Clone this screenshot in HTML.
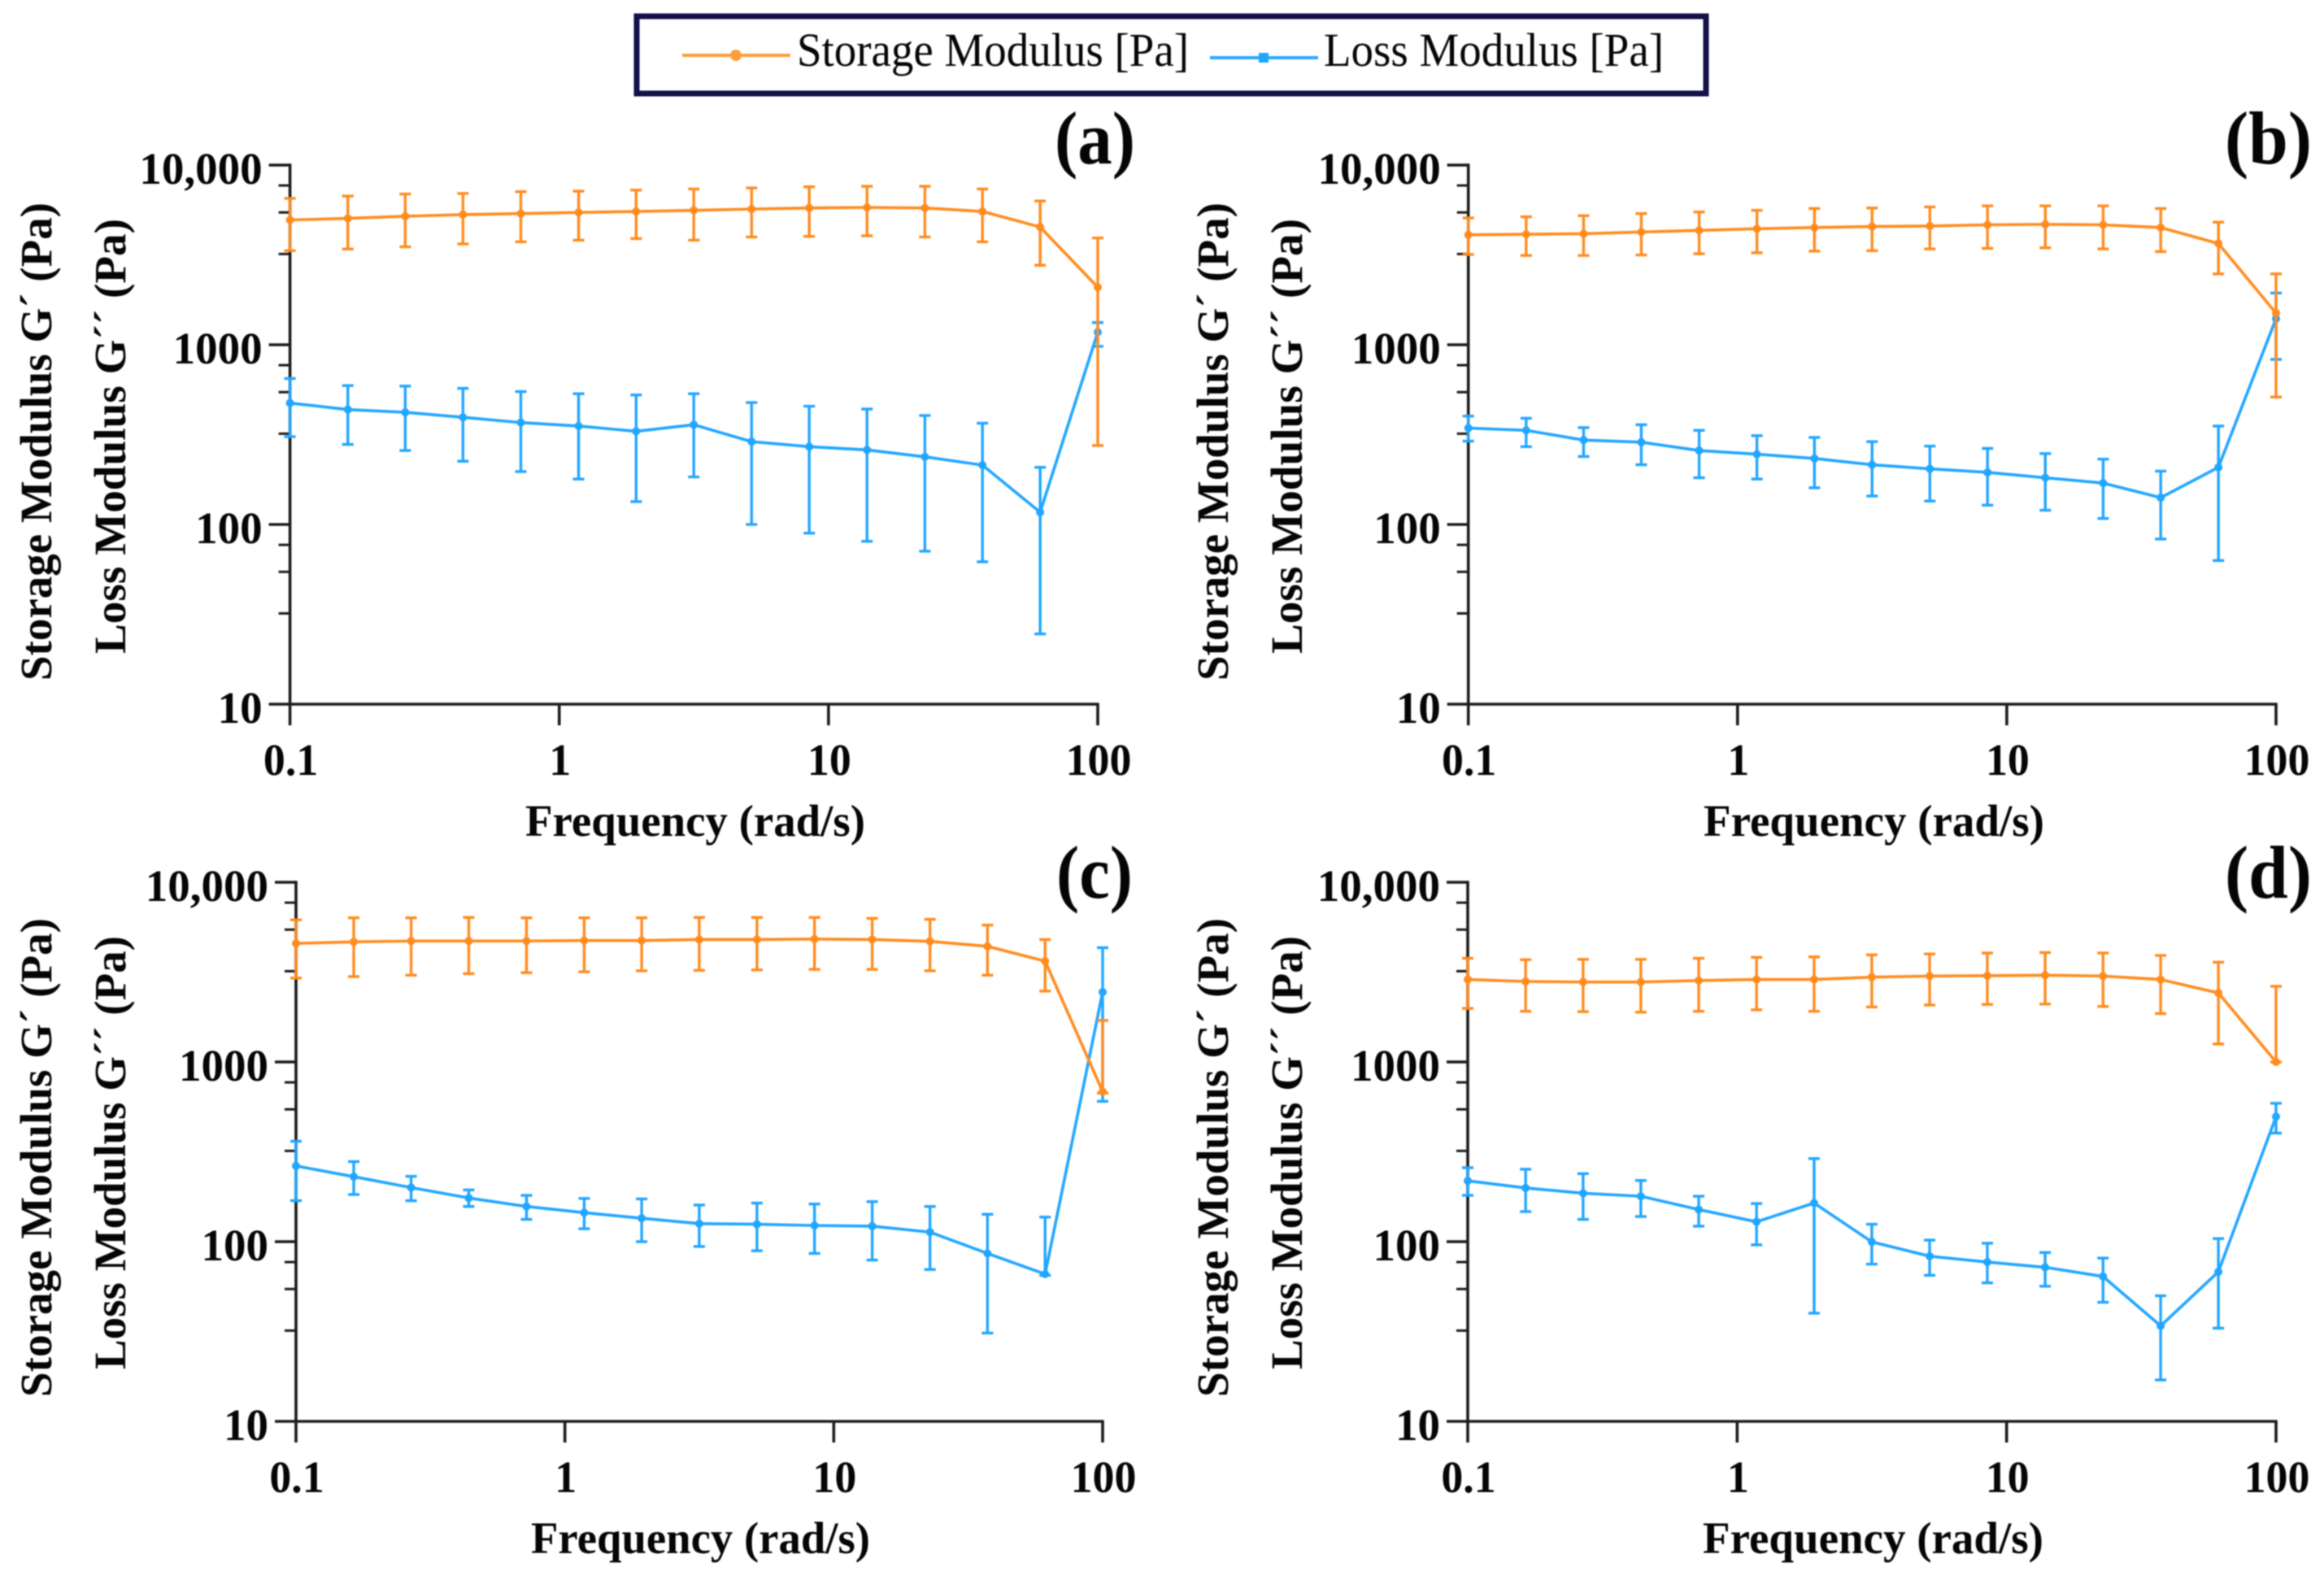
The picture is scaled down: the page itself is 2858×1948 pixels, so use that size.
<!DOCTYPE html>
<html lang="en">
<head>
<meta charset="utf-8">
<title>Storage and Loss Modulus vs Frequency</title>
<style>
html,body{margin:0;padding:0;background:#fff;width:2858px;height:1948px;overflow:hidden}
svg{display:block;filter:blur(0.8px)}
text{font-family:"Liberation Serif",serif;fill:#050505}
.t{font-weight:700;font-size:55px}
.k{font-weight:700;font-size:55px}
.p{font-weight:700;font-size:92px}
.l{font-size:58px}
</style>
</head>
<body>
<svg id="chart" xmlns="http://www.w3.org/2000/svg" width="2858" height="1948" viewBox="0 0 2858 1948">
  <rect x="0" y="0" width="2858" height="1948" fill="#fff"/>

  <g>
    <rect x="783" y="20" width="1315" height="95" fill="#fff" stroke="#14104a" stroke-width="7"/>
    <line x1="839" y1="68" x2="972" y2="68" stroke="#ff9d3c" stroke-width="4"/>
    <circle cx="905" cy="68" r="7" fill="#ff9d3c"/>
    <text class="l" x="980" y="81" textLength="482" lengthAdjust="spacingAndGlyphs">Storage Modulus [Pa]</text>
    <line x1="1488" y1="71" x2="1621" y2="71" stroke="#2aa8ff" stroke-width="4"/>
    <rect x="1548" y="65" width="12" height="12" fill="#1ea5ff"/>
    <text class="l" x="1628" y="81" textLength="418" lengthAdjust="spacingAndGlyphs">Loss Modulus [Pa]</text>
  </g>

  <g>
    <text class="p" x="1297" y="201" textLength="99" lengthAdjust="spacingAndGlyphs">(a)</text>
    <text class="t" transform="rotate(-90 63 837)" x="63" y="837" textLength="588" lengthAdjust="spacingAndGlyphs">Storage Modulus G´ (Pa)</text>
    <text class="t" transform="rotate(-90 154 804)" x="154" y="804" textLength="535" lengthAdjust="spacingAndGlyphs">Loss Modulus G´´ (Pa)</text>
    <text class="t" x="646" y="1028" textLength="418" lengthAdjust="spacingAndGlyphs">Frequency (rad/s)</text>
    <g id="plot-a"></g>
  </g>

  <g>
    <text class="p" x="2736" y="201" textLength="107" lengthAdjust="spacingAndGlyphs">(b)</text>
    <text class="t" transform="rotate(-90 1510 837)" x="1510" y="837" textLength="588" lengthAdjust="spacingAndGlyphs">Storage Modulus G´ (Pa)</text>
    <text class="t" transform="rotate(-90 1601 804)" x="1601" y="804" textLength="535" lengthAdjust="spacingAndGlyphs">Loss Modulus G´´ (Pa)</text>
    <text class="t" x="2095" y="1028" textLength="419" lengthAdjust="spacingAndGlyphs">Frequency (rad/s)</text>
    <g id="plot-b"></g>
  </g>

  <g>
    <text class="p" x="1299" y="1104" textLength="94" lengthAdjust="spacingAndGlyphs">(c)</text>
    <text class="t" transform="rotate(-90 63 1718)" x="63" y="1718" textLength="589" lengthAdjust="spacingAndGlyphs">Storage Modulus G´ (Pa)</text>
    <text class="t" transform="rotate(-90 154 1684)" x="154" y="1684" textLength="533" lengthAdjust="spacingAndGlyphs">Loss Modulus G´´ (Pa)</text>
    <text class="t" x="653" y="1910" textLength="417" lengthAdjust="spacingAndGlyphs">Frequency (rad/s)</text>
    <g id="plot-c"></g>
  </g>

  <g>
    <text class="p" x="2736" y="1104" textLength="107" lengthAdjust="spacingAndGlyphs">(d)</text>
    <text class="t" transform="rotate(-90 1510 1718)" x="1510" y="1718" textLength="589" lengthAdjust="spacingAndGlyphs">Storage Modulus G´ (Pa)</text>
    <text class="t" transform="rotate(-90 1601 1684)" x="1601" y="1684" textLength="533" lengthAdjust="spacingAndGlyphs">Loss Modulus G´´ (Pa)</text>
    <text class="t" x="2094" y="1910" textLength="419" lengthAdjust="spacingAndGlyphs">Frequency (rad/s)</text>
    <g id="plot-d"></g>
  </g>
</svg>

<script>
const frequency = [0.1,0.164,0.268,0.439,0.72,1.18,1.93,3.16,5.18,8.48,13.9,22.8,37.3,61.1,100];
const xTicks = [0.1,1,10,100];
const xTickLabels = ["0.1","1","10","100"];
const yTicks = [10,100,1000,10000];
const yTickLabels = ["10","100","1000","10,000"];
const yMinorTicks = [7700,5450,3200,770,545,320,77,54.5,32];

const storageA = [4950,5050,5190,5300,5370,5450,5520,5600,5690,5770,5810,5770,5520,4520,2090];
const storageAHigh = [6530,6720,6900,6950,7110,7160,7260,7360,7460,7570,7620,7620,7360,6310,3930];
const storageALow = [3340,3410,3510,3640,3740,3820,3900,3820,3980,4010,4040,3980,3740,2770,275];
const lossA = [474,436,421,395,369,353,330,359,289,271,260,238,214,117,1175];
const lossAHigh = [649,593,589,572,549,534,526,534,477,455,439,404,366,208,1330];
const lossALow = [308,279,258,225,197,179,134,184,100,89.5,80.6,71,62,24.6,980];

const storageB = [4090,4120,4150,4240,4330,4420,4490,4550,4580,4650,4680,4650,4490,3660,1500];
const storageBHigh = [5080,5155,5225,5370,5480,5600,5730,5770,5850,5930,5930,5930,5730,4810,2480];
const storageBLow = [3180,3140,3140,3160,3210,3250,3320,3340,3415,3440,3465,3415,3300,2480,512];
const lossB = [344,334,295,287,258,246,233,215,204,195,182,170,141,208,1397];
const lossBHigh = [401,390,346,359,334,312,305,289,273,265,248,231,198,353,1941];
const lossBLow = [291,271,239,215,182,179,160,144,135,128,120,108,83,63,829];

const storageC = [4570,4660,4710,4710,4710,4740,4740,4800,4800,4830,4800,4690,4400,3640,684];
const storageCHigh = [6180,6340,6340,6370,6340,6340,6340,6370,6370,6370,6295,6220,5780,4800,1702];
const storageCLow = [2930,2985,3040,3100,3140,3175,3215,3235,3255,3275,3275,3215,3040,2480,671];
const lossC = [264,230,200,175,157,145,135,126,125,123,122,113,86,66,2450];
const lossCHigh = [362,279,231,194,181,174,173,160,164,162,167,157,142,137,4325];
const lossCLow = [169,183,169,157,133,118,100,94,89,86,79,70,31,65,604];

const storageD = [2877,2805,2786,2786,2838,2877,2877,2965,3006,3020,3040,3006,2877,2421,1000];
const storageDHigh = [3775,3707,3725,3725,3775,3820,3845,3945,3990,4040,4063,4040,3917,3590,2637];
const storageDLow = [1986,1914,1905,1892,1914,1950,1914,2023,2075,2090,2100,2037,1858,1259,1000];
const lossD = [218,199,186,179,151,129,164,99.8,83,77,72,64,34,68,496];
const lossDHigh = [258,253,239,219,179,163,290,125,102,98,87,81,50,104,589];
const lossDLow = [181,147,133,138,122,96,40,75,65,59,56.5,46,17,33,402];

const NS = "http://www.w3.org/2000/svg";
const ORANGE = "#ff8c1f";
const BLUE = "#22a6ff";
const AXIS = "#1c1c1c";

function shape(parent, tag, attrs) {
  const el = document.createElementNS(NS, tag);
  for (const k in attrs) el.setAttribute(k, attrs[k]);
  parent.appendChild(el);
  return el;
}

function labelWidth(str, ratio) {
  let em = 0;
  for (const ch of str) em += (ch === "," || ch === ".") ? 0.25 : 0.5;
  return em * 55 * ratio;
}

function drawSeries(g, xs, ys, mean, high, low, color, key) {
  const linePoints = frequency.map(function (f, i) { return xs(f) + "," + ys(mean[i]); }).join(" ");
  const errorGroup = shape(g, "g", {stroke: color, "stroke-width": 3.4, fill: "none"});
  
  
  frequency.forEach(function (f, i) {
    const x = xs(f);
    const bar = shape(errorGroup, "line", {x1: x, x2: x, y1: ys(high[i]), y2: ys(low[i])});
    
    
    const capTop = shape(errorGroup, "line", {x1: x - 7, x2: x + 7, y1: ys(high[i]), y2: ys(high[i])});
    
    
    const capBottom = shape(errorGroup, "line", {x1: x - 7, x2: x + 7, y1: ys(low[i]), y2: ys(low[i])});
    
    
  });
  const line = shape(g, "polyline", {points: linePoints, fill: "none", stroke: color, "stroke-width": 3.6, "stroke-linejoin": "round"});
  
  
  frequency.forEach(function (f, i) {
    const pt = shape(g, "circle", {cx: xs(f), cy: ys(mean[i]), r: 5, fill: color});
    
    
  });
}

function drawPanel(id, box, series) {
  const g = document.getElementById("plot-" + id);
  const xs = function (v) { return box.left + (Math.log10(v) + 1) / 3 * (box.right - box.left); };
  const ys = function (v) { return box.bottom - (Math.log10(v) - 1) / 3 * (box.bottom - box.top); };

  const yAxis = shape(g, "line", {x1: box.left, x2: box.left, y1: box.top - 1.7, y2: box.bottom + 1.7, stroke: AXIS, "stroke-width": 3.6});
  
  
  const xAxis = shape(g, "line", {x1: box.left - 1.7, x2: box.right + 1.7, y1: box.bottom, y2: box.bottom, stroke: AXIS, "stroke-width": 3.6});
  
  

  yTicks.forEach(function (v, i) {
    const tick = shape(g, "line", {x1: box.left - 26, x2: box.left, y1: ys(v), y2: ys(v), stroke: AXIS, "stroke-width": 3.6});
    
    
    const label = shape(g, "text", {x: box.left - 34, y: ys(v) + 23, "text-anchor": "end", class: "k", textLength: labelWidth(yTickLabels[i], 1), lengthAdjust: "spacingAndGlyphs"});
    
    
    label.textContent = yTickLabels[i];
  });
  yMinorTicks.forEach(function (v) {
    const tick = shape(g, "line", {x1: box.left - 14, x2: box.left, y1: ys(v), y2: ys(v), stroke: AXIS, "stroke-width": 3});
    
    
  });
  xTicks.forEach(function (v, i) {
    const tick = shape(g, "line", {x1: xs(v), x2: xs(v), y1: box.bottom, y2: box.bottom + 26, stroke: AXIS, "stroke-width": 3.6});
    
    
    const label = shape(g, "text", {x: xs(v) + 1, y: box.bottom + 87, "text-anchor": "middle", class: "k", textLength: labelWidth(xTickLabels[i], 0.98), lengthAdjust: "spacingAndGlyphs"});
    
    
    label.textContent = xTickLabels[i];
  });

  drawSeries(g, xs, ys, series.loss, series.lossHigh, series.lossLow, BLUE, "loss-modulus");
  drawSeries(g, xs, ys, series.storage, series.storageHigh, series.storageLow, ORANGE, "storage-modulus");
}

drawPanel("a", {left: 356.6, right: 1350, top: 203, bottom: 866},
  {storage: storageA, storageHigh: storageAHigh, storageLow: storageALow, loss: lossA, lossHigh: lossAHigh, lossLow: lossALow});
drawPanel("b", {left: 1805.7, right: 2799, top: 203, bottom: 866},
  {storage: storageB, storageHigh: storageBHigh, storageLow: storageBLow, loss: lossB, lossHigh: lossBHigh, lossLow: lossBLow});
drawPanel("c", {left: 364, right: 1356, top: 1085, bottom: 1748},
  {storage: storageC, storageHigh: storageCHigh, storageLow: storageCLow, loss: lossC, lossHigh: lossCHigh, lossLow: lossCLow});
drawPanel("d", {left: 1805, right: 2799, top: 1085, bottom: 1748},
  {storage: storageD, storageHigh: storageDHigh, storageLow: storageDLow, loss: lossD, lossHigh: lossDHigh, lossLow: lossDLow});
</script>
</body>
</html>
